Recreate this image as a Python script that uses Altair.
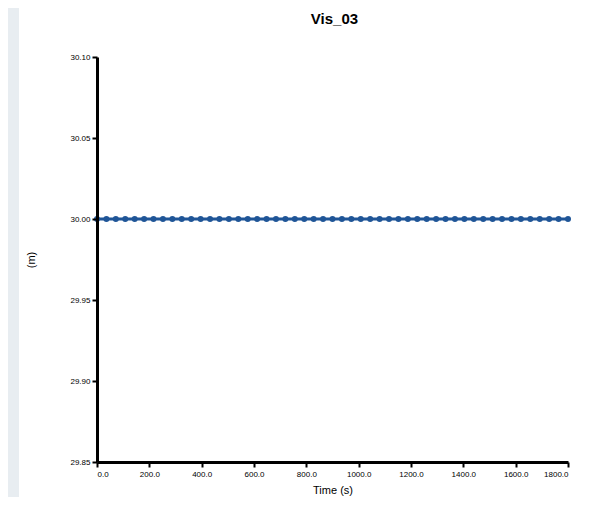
import altair as alt
import pandas as pd

times = [i * 36 for i in range(51)]
values = [30.0] * 51
x_ticks = [0, 200, 400, 600, 800, 1000, 1200, 1400, 1600, 1800]
y_ticks = [29.85, 29.90, 29.95, 30.00, 30.05, 30.10]
title_text = "Vis_03"

df = pd.DataFrame({"t": times, "v": values})
one = pd.DataFrame({"a": [0]})
W, H = 471, 405
blue = "#1f5597"

bg = alt.Chart(one).mark_rect(color="white").encode(
    x=alt.value(-78), x2=alt.value(W + 40), y=alt.value(-55), y2=alt.value(H + 60)
)

xenc = alt.X("t:Q", scale=alt.Scale(domain=[0, 1800], nice=False),
             axis=alt.Axis(values=x_ticks, format=".1f", title="Time (s)", grid=False, zindex=1))
yenc = alt.Y("v:Q", scale=alt.Scale(domain=[29.85, 30.10], nice=False, zero=False),
             axis=alt.Axis(values=y_ticks, format=".2f", title="(m)", grid=False, zindex=1))

line = alt.Chart(df).mark_line(color=blue, strokeWidth=3).encode(x=xenc, y=yenc)
pts = alt.Chart(df).mark_circle(color=blue, size=36, opacity=1).encode(x="t:Q", y="v:Q")

ttl = alt.Chart(one).mark_text(
    text=title_text, font="Liberation Sans", fontSize=15, fontWeight="bold",
    color="black", align="center", baseline="alphabetic"
).encode(x=alt.value(W / 2 + 2), y=alt.value(-33))

chart = alt.layer(bg, line, pts, ttl).properties(
    width=W, height=H,
    autosize=alt.AutoSizeParams(type="none"),
    padding={"left": 89, "top": 49, "right": 25, "bottom": 35},
    background="#e8edf1",
).configure_view(stroke=None).configure_axis(
    domainColor="black", domainWidth=3, tickColor="black", tickWidth=2, tickSize=5,
    labelFont="Liberation Sans", labelFontSize=8, labelColor="black",
    titleFont="Liberation Sans", titleFontSize=11, titleFontWeight="normal", titleColor="black",
).configure_axisY(titlePadding=33, labelPadding=2).configure_axisX(titlePadding=6, labelPadding=3)

chart.save("out.html", embed_options={"renderer": "svg", "actions": False})
